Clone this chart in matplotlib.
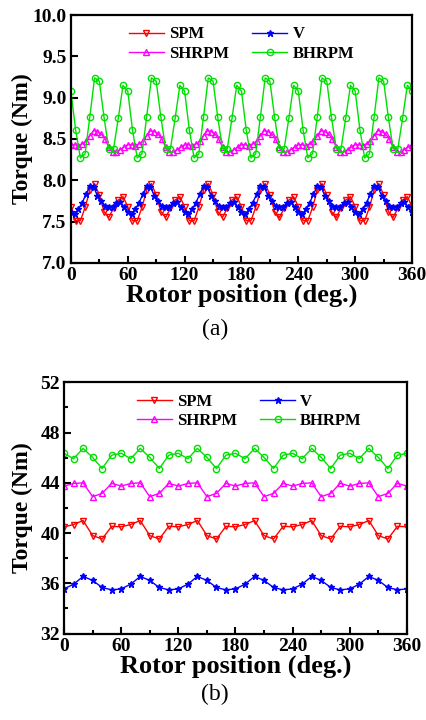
import numpy as np
import matplotlib.pyplot as plt
from matplotlib.ticker import MultipleLocator

plt.rcParams['font.family'] = ['Liberation Serif', 'DejaVu Serif']

# ---- (a) torque vs rotor position ----
pos_a5 = np.arange(0, 361, 5)
pos_a4 = np.arange(0, 361, 4)

spm_a = [7.68, 7.51, 7.51, 7.67, 7.88, 7.96, 7.82, 7.62, 7.55, 7.66, 7.76, 7.80,
         7.68, 7.51, 7.51, 7.67, 7.88, 7.96, 7.82, 7.62, 7.55, 7.66, 7.76, 7.80,
         7.68, 7.51, 7.51, 7.67, 7.88, 7.96, 7.82, 7.62, 7.55, 7.66, 7.76, 7.80,
         7.68, 7.51, 7.51, 7.67, 7.88, 7.96, 7.82, 7.62, 7.55, 7.66, 7.76, 7.80,
         7.68, 7.51, 7.51, 7.67, 7.88, 7.96, 7.82, 7.62, 7.55, 7.66, 7.76, 7.80,
         7.68, 7.51, 7.51, 7.67, 7.88, 7.96, 7.82, 7.62, 7.55, 7.66, 7.76, 7.80,
         7.68]
bhrpm_a = [9.08, 8.61, 8.27, 8.32, 8.77, 9.24, 9.20, 8.76, 8.38, 8.38, 8.75, 9.15,
           9.08, 8.61, 8.27, 8.32, 8.77, 9.24, 9.20, 8.76, 8.38, 8.38, 8.75, 9.15,
           9.08, 8.61, 8.27, 8.32, 8.77, 9.24, 9.20, 8.76, 8.38, 8.38, 8.75, 9.15,
           9.08, 8.61, 8.27, 8.32, 8.77, 9.24, 9.20, 8.76, 8.38, 8.38, 8.75, 9.15,
           9.08, 8.61, 8.27, 8.32, 8.77, 9.24, 9.20, 8.76, 8.38, 8.38, 8.75, 9.15,
           9.08, 8.61, 8.27, 8.32, 8.77, 9.24, 9.20, 8.76, 8.38, 8.38, 8.75, 9.15,
           9.08]
shrpm_a = [8.43, 8.43, 8.42, 8.44, 8.47, 8.54, 8.60, 8.59, 8.56, 8.50, 8.40, 8.34, 8.34, 8.37, 8.40,
           8.43, 8.43, 8.42, 8.44, 8.47, 8.54, 8.60, 8.59, 8.56, 8.50, 8.40, 8.34, 8.34, 8.37, 8.40,
           8.43, 8.43, 8.42, 8.44, 8.47, 8.54, 8.60, 8.59, 8.56, 8.50, 8.40, 8.34, 8.34, 8.37, 8.40,
           8.43, 8.43, 8.42, 8.44, 8.47, 8.54, 8.60, 8.59, 8.56, 8.50, 8.40, 8.34, 8.34, 8.37, 8.40,
           8.43, 8.43, 8.42, 8.44, 8.47, 8.54, 8.60, 8.59, 8.56, 8.50, 8.40, 8.34, 8.34, 8.37, 8.40,
           8.43, 8.43, 8.42, 8.44, 8.47, 8.54, 8.60, 8.59, 8.56, 8.50, 8.40, 8.34, 8.34, 8.37, 8.40,
           8.43]
v_a = [7.61, 7.59, 7.65, 7.73, 7.83, 7.93, 7.92, 7.81, 7.75, 7.69, 7.67, 7.68, 7.72, 7.74, 7.67,
       7.61, 7.59, 7.65, 7.73, 7.83, 7.93, 7.92, 7.81, 7.75, 7.69, 7.67, 7.68, 7.72, 7.74, 7.67,
       7.61, 7.59, 7.65, 7.73, 7.83, 7.93, 7.92, 7.81, 7.75, 7.69, 7.67, 7.68, 7.72, 7.74, 7.67,
       7.61, 7.59, 7.65, 7.73, 7.83, 7.93, 7.92, 7.81, 7.75, 7.69, 7.67, 7.68, 7.72, 7.74, 7.67,
       7.61, 7.59, 7.65, 7.73, 7.83, 7.93, 7.92, 7.81, 7.75, 7.69, 7.67, 7.68, 7.72, 7.74, 7.67,
       7.61, 7.59, 7.65, 7.73, 7.83, 7.93, 7.92, 7.81, 7.75, 7.69, 7.67, 7.68, 7.72, 7.74, 7.67,
       7.61]

# ---- (b) torque vs rotor position ----
pos_b = np.arange(0, 361, 10)

spm_b = [40.50, 40.68, 41.00, 39.80, 39.53, 40.54,
         40.50, 40.68, 41.00, 39.80, 39.53, 40.54,
         40.50, 40.68, 41.00, 39.80, 39.53, 40.54,
         40.50, 40.68, 41.00, 39.80, 39.53, 40.54,
         40.50, 40.68, 41.00, 39.80, 39.53, 40.54,
         40.50, 40.68, 41.00, 39.80, 39.53, 40.54,
         40.50]
v_b = [35.56, 35.93, 36.55, 36.23, 35.67, 35.48,
       35.56, 35.93, 36.55, 36.23, 35.67, 35.48,
       35.56, 35.93, 36.55, 36.23, 35.67, 35.48,
       35.56, 35.93, 36.55, 36.23, 35.67, 35.48,
       35.56, 35.93, 36.55, 36.23, 35.67, 35.48,
       35.56, 35.93, 36.55, 36.23, 35.67, 35.48,
       35.56]
shrpm_b = [43.74, 43.95, 44.00, 42.90, 43.16, 43.96,
           43.74, 43.95, 44.00, 42.90, 43.16, 43.96,
           43.74, 43.95, 44.00, 42.90, 43.16, 43.96,
           43.74, 43.95, 44.00, 42.90, 43.16, 43.96,
           43.74, 43.95, 44.00, 42.90, 43.16, 43.96,
           43.74, 43.95, 44.00, 42.90, 43.16, 43.96,
           43.74]
bhrpm_b = [46.35, 45.92, 46.74, 46.02, 45.14, 46.20,
           46.35, 45.92, 46.74, 46.02, 45.14, 46.20,
           46.35, 45.92, 46.74, 46.02, 45.14, 46.20,
           46.35, 45.92, 46.74, 46.02, 45.14, 46.20,
           46.35, 45.92, 46.74, 46.02, 45.14, 46.20,
           46.35, 45.92, 46.74, 46.02, 45.14, 46.20,
           46.35]

RED = '#ff0000'
BLUE = '#0000ff'
MAGENTA = '#ff00ff'
GREEN = '#00e000'


def style_axes(ax, ylim, ymajor, yminor, yfmt, ypad, leg_x):
    ax.set_xlim(0, 360)
    ax.set_ylim(*ylim)
    ax.xaxis.set_major_locator(MultipleLocator(60))
    ax.xaxis.set_minor_locator(MultipleLocator(30))
    ax.yaxis.set_major_locator(MultipleLocator(ymajor))
    if yminor:
        ax.yaxis.set_minor_locator(MultipleLocator(yminor))
    ax.yaxis.set_major_formatter(plt.FormatStrFormatter(yfmt))
    ax.tick_params(which='both', direction='in', top=False, right=False, width=1.5)
    ax.tick_params(which='major', length=5, labelsize=14, pad=3)
    ax.tick_params(which='minor', length=3)
    for lab in ax.get_xticklabels() + ax.get_yticklabels():
        lab.set_fontweight('bold')
    for sp in ax.spines.values():
        sp.set_linewidth(1.6)
    ax.set_xlabel('Rotor position (deg.)', fontsize=19, fontweight='bold', labelpad=0)
    ax.set_ylabel('Torque (Nm)', fontsize=17, fontweight='bold', labelpad=ypad)
    # row 1: SPM, V   row 2: SHRPM, BHRPM
    h, l = ax.get_legend_handles_labels()
    order = [0, 2, 1, 3]
    ax.legend([h[i] for i in order], [l[i] for i in order],
              loc='upper center', ncol=2, frameon=False,
              prop={'weight': 'bold', 'size': 12}, handlelength=2.1,
              columnspacing=1.4, handletextpad=0.3, labelspacing=0.2,
              bbox_to_anchor=(leg_x, 1.015))


fig = plt.figure(figsize=(4.27, 7.2), dpi=100)
ax1 = fig.add_axes([0.166, 0.635, 0.799, 0.344])
ax2 = fig.add_axes([0.150, 0.120, 0.803, 0.349])

kw = dict(lw=1.0, ms=4.5)
ax1.plot(pos_a5, spm_a, color=RED, marker='v', mfc='none', label='SPM', **kw)
ax1.plot(pos_a4, v_a, color=BLUE, marker='*', mfc=BLUE, label='V', **kw)
ax1.plot(pos_a4, shrpm_a, color=MAGENTA, marker='^', mfc='none', label='SHRPM', **kw)
ax1.plot(pos_a5, bhrpm_a, color=GREEN, marker='o', mfc='none', label='BHRPM', **kw)
style_axes(ax1, (7.0, 10.0), 0.5, None, '%.1f', 0, 0.5)

ax2.plot(pos_b, spm_b, color=RED, marker='v', mfc='none', label='SPM', **kw)
ax2.plot(pos_b, v_b, color=BLUE, marker='*', mfc=BLUE, label='V', **kw)
ax2.plot(pos_b, shrpm_b, color=MAGENTA, marker='^', mfc='none', label='SHRPM', **kw)
ax2.plot(pos_b, bhrpm_b, color=GREEN, marker='o', mfc='none', label='BHRPM', **kw)
style_axes(ax2, (32, 52), 4, 2, '%d', 5, 0.54)

fig.text(0.503, 0.543, '(a)', ha='center', va='center', fontsize=17)
fig.text(0.503, 0.035, '(b)', ha='center', va='center', fontsize=17)

fig.savefig('out.png', dpi=100)
